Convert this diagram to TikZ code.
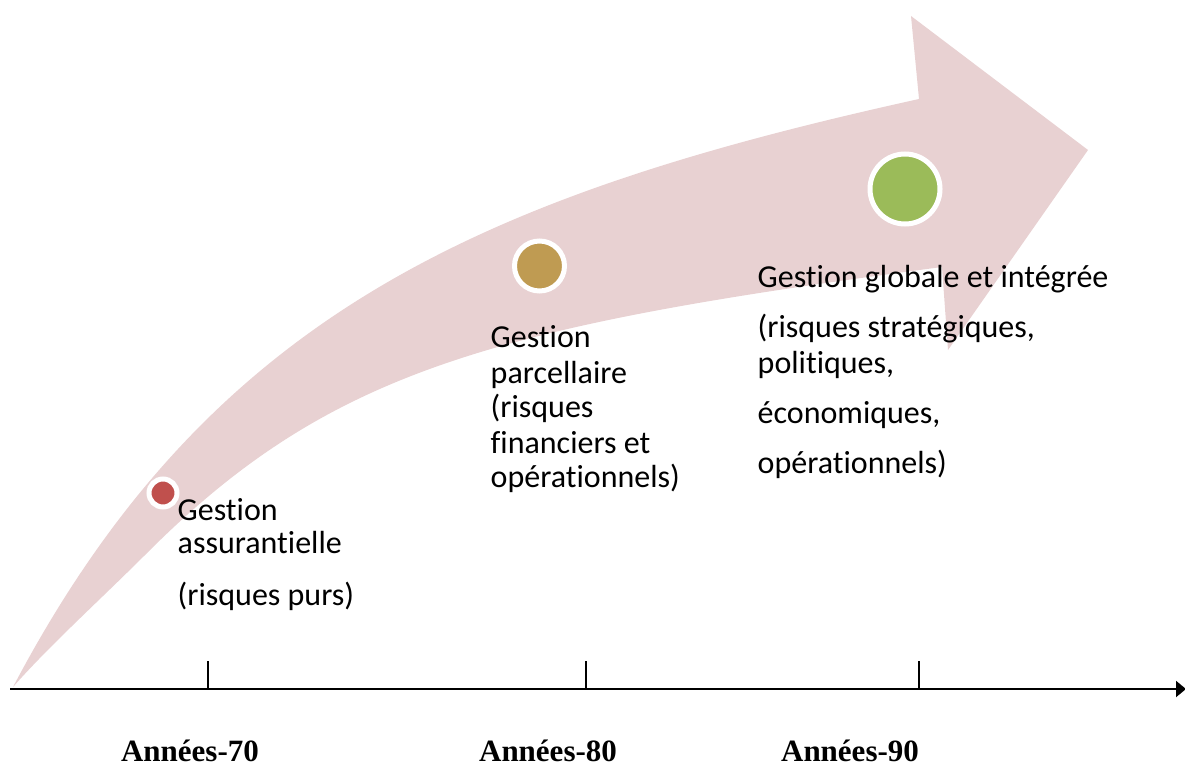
\documentclass[tikz,border=0pt]{standalone}
\usepackage{fontspec}
\setmainfont{Carlito}[Ligatures={TeX,NoCommon}]
\newfontfamily\labfont{Liberation Serif}
\usetikzlibrary{arrows.meta}
\definecolor{arrowpink}{HTML}{E8D1D2}
\definecolor{dotred}{HTML}{C0504D}
\definecolor{dotgold}{HTML}{BF9B52}
\definecolor{dotgreen}{HTML}{9BBB59}
\tikzset{
  dot/.style={circle, draw=white, line width=5pt, inner sep=0pt},
  txt/.style={anchor=base west, inner sep=0pt, font=\fontsize{32}{36}\selectfont},
  yearlab/.style={anchor=base, inner sep=0pt, font=\labfont\bfseries\fontsize{31}{35}\selectfont},
  axisline/.style={line width=2pt, -{Triangle[length=10pt,width=16pt]}},
  tickline/.style={line width=1.3pt}
}
\begin{document}
\begin{tikzpicture}[x=1pt,y=-1pt]
\useasboundingbox (0,0) rectangle (1185,765);
% big curved arrow
\coordinate (tail) at (13,687);
\coordinate (nu) at (919,99);
\coordinate (bu) at (911,16);
\coordinate (tip) at (1088,150);
\coordinate (bl) at (948,350);
\coordinate (nl) at (942,267);
\coordinate (tl) at (147,553);
\fill[arrowpink] (tail) .. controls (209,315) and (479,196) .. (nu)
  -- (bu) -- (tip) -- (bl) -- (nl)
  .. controls (496,326) and (331,369) .. (tl)
  .. controls (100,600) and (50,645) .. (tail) -- cycle;
% dots
\node[dot, fill=dotred, minimum size=28pt] (d1) at (163,493) {};
\node[dot, fill=dotgold, minimum size=50pt] (d2) at (539.5,266) {};
\node[dot, fill=dotgreen, minimum size=70pt] (d3) at (905,189) {};
% axis
\coordinate (ax0) at (10,689);
\coordinate (ax1) at (1186,689);
\draw[axisline] (ax0) -- (ax1);
\coordinate (k1) at (208,689);
\coordinate (k2) at (586,689);
\coordinate (k3) at (919,689);
\draw[tickline] (k1) -- ++(0,-28);
\draw[tickline] (k2) -- ++(0,-28);
\draw[tickline] (k3) -- ++(0,-28);
% year labels
\node[yearlab] (y1) at (190,761) {Années-70};
\node[yearlab] (y2) at (548,761) {Années-80};
\node[yearlab] (y3) at (850,761) {Années-90};
% block 1
\node[txt] (t1a) at (177.5,520) {Gestion};
\node[txt] (t1b) at (177.5,553) {assurantielle};
\node[txt] (t1c) at (177.5,605) {(risques purs)};
% block 2
\node[txt] (t2a) at (490.5,347) {Gestion};
\node[txt] (t2b) at (490.5,383) {parcellaire};
\node[txt] (t2c) at (490.5,417) {(risques};
\node[txt] (t2d) at (490.5,453) {financiers et};
\node[txt] (t2e) at (490.5,487) {opérationnels)};
% block 3
\node[txt] (t3a) at (757.5,287) {Gestion globale et intégrée};
\node[txt] (t3b) at (757.5,337) {(risques stratégiques,};
\node[txt] (t3c) at (757.5,373) {politiques,};
\node[txt] (t3d) at (757.5,423) {économiques,};
\node[txt] (t3e) at (757.5,473) {opérationnels)};
\end{tikzpicture}
\end{document}
